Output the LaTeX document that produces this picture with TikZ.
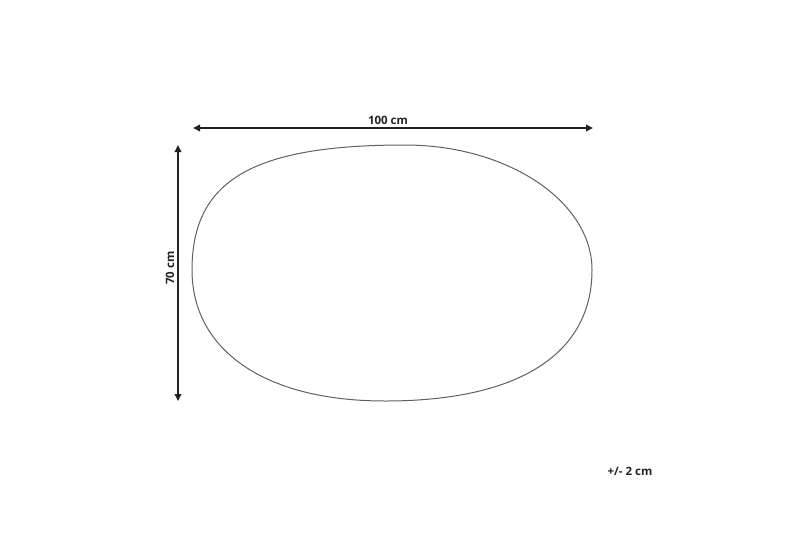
\documentclass[tikz,border=0pt]{standalone}
\usepackage{fontspec}
\setmainfont{Open Sans}
\usetikzlibrary{arrows.meta}
\definecolor{arrowc}{HTML}{222222}
\definecolor{shapec}{HTML}{606060}
\tikzset{
  dimarrow/.style={draw=arrowc, line width=1.8pt, {Triangle[length=7pt,width=6.5pt]}-{Triangle[length=7pt,width=6.5pt]}},
  dimlabel/.style={font=\fontsize{11.5}{13}\selectfont\bfseries, text=arrowc, inner sep=0pt},
  outline/.style={draw=shapec, line width=1pt}
}
\begin{document}
\begin{tikzpicture}[x=1pt,y=-1pt]
\useasboundingbox (0,0) rectangle (800,533);
\coordinate (hl) at (193,128);
\coordinate (hr) at (593,128);
\coordinate (vt) at (178,145);
\coordinate (vb) at (178,401);
\draw[dimarrow] (hl) -- (hr);
\draw[dimarrow] (vt) -- (vb);
\node[dimlabel] (wlab) at (388,120) {100 cm};
\node[dimlabel, rotate=90] (hlab) at (170,268) {70 cm};
\node[dimlabel] (tol) at (630,471) {+/- 2 cm};
\coordinate (L) at (192,270);
\coordinate (T) at (405,145);
\coordinate (R) at (592,270);
\coordinate (B) at (385,401);
\draw[outline] (L) .. controls (192,180) and (253,145) .. (T)
  .. controls (507,145) and (592,201) .. (R)
  .. controls (592,352) and (522,401) .. (B)
  .. controls (263,401) and (192,349) .. (L) -- cycle;
\end{tikzpicture}
\end{document}
